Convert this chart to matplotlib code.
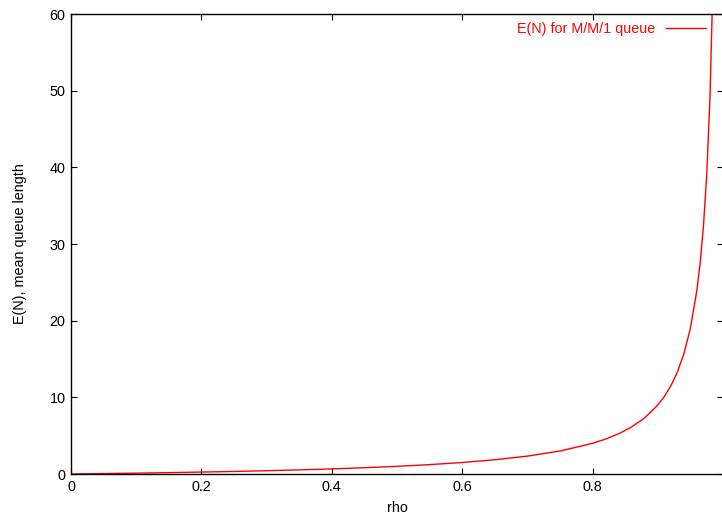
import matplotlib
matplotlib.use("Agg")
import matplotlib.pyplot as plt

# values
rho = [0.0, 0.05, 0.1, 0.15, 0.2, 0.25, 0.3, 0.35, 0.4, 0.45, 0.5, 0.55, 0.6,
       0.65, 0.7, 0.75, 0.8, 0.82, 0.84, 0.86, 0.88, 0.9, 0.91, 0.92, 0.93,
       0.94, 0.95, 0.96, 0.965, 0.97, 0.975, 0.98, 0.985, 0.99]
mean_len = [0.0, 0.053, 0.111, 0.176, 0.25, 0.333, 0.429, 0.538, 0.667, 0.818,
            1.0, 1.222, 1.5, 1.857, 2.333, 3.0, 4.0, 4.556, 5.25, 6.143, 7.333,
            9.0, 10.11, 11.5, 13.29, 15.67, 19.0, 24.0, 27.57, 32.33, 39.0,
            49.0, 65.67, 99.0]
x_ticks = [0, 0.2, 0.4, 0.6, 0.8]
x_tick_labels = ["0", "0.2", "0.4", "0.6", "0.8"]
y_ticks = [0, 10, 20, 30, 40, 50, 60]

plt.rcParams['font.family'] = ['Liberation Sans', 'DejaVu Sans']
plt.rcParams['font.size'] = 10.4

fig = plt.figure(figsize=(7.22, 5.17), dpi=100)
ax = fig.add_axes([71 / 722, 43 / 517, 652 / 722, 460 / 517])

ax.plot(rho, mean_len, color='red', linewidth=1.0, label='E(N) for M/M/1 queue')

ax.set_xlim(0, 1)
ax.set_ylim(0, 60)
ax.set_xticks(x_ticks)
ax.set_xticklabels(x_tick_labels)
ax.set_yticks(y_ticks)
ax.tick_params(direction='in', top=True, right=True, length=4, width=0.8, pad=4)
for s in ax.spines.values():
    s.set_linewidth(1.0)

ax.set_xlabel('rho', labelpad=5)
ax.set_ylabel('E(N), mean queue length', labelpad=16)

ax.legend(loc='upper right', frameon=False, markerfirst=False, labelcolor='red',
          handlelength=2.8, handletextpad=0.7, borderaxespad=0.3,
          bbox_to_anchor=(0.9895, 1.0045))

fig.savefig('out.png', dpi=100)
